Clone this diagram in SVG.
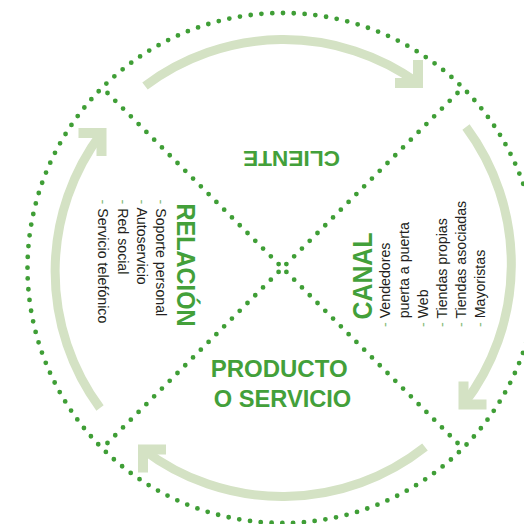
<svg xmlns="http://www.w3.org/2000/svg" width="524" height="524" viewBox="0 0 524 524">
  <style>
    .ring { fill: none; stroke: #3f9e36; stroke-width: 4.8; stroke-linecap: round; stroke-dasharray: 0 10.826; }
    .diag { fill: none; stroke: #3f9e36; stroke-width: 4.8; stroke-linecap: round; stroke-dasharray: 0 11; stroke-dashoffset: 3.5; }
    .flow { fill: none; stroke: #d4e2c4; stroke-width: 9; }
    .title { font-family: "Liberation Sans", Arial, sans-serif; font-weight: bold; fill: #43a03a; }
    .item { font-family: "Liberation Sans", Arial, sans-serif; font-size: 14.2px; fill: #231f20; }
    .dash { fill: #86bb78; }
  </style>
  <defs>
    <!-- open right-angle arrowhead, corner at the origin -->
    <path id="chev" d="M-23,0 L0,0 L0,-23" fill="none" stroke="#d4e2c4" stroke-width="10" stroke-linejoin="miter"/>
  </defs>

  <!-- dotted outer ring and the two dotted diagonals -->
  <g id="frame">
    <circle class="ring" cx="282.5" cy="268" r="255"/>
    <path class="diag" d="M102.2,87.7 L462.8,448.3"/>
    <path class="diag" d="M462.8,87.7 L102.2,448.3"/>
  </g>

  <!-- clockwise flow arcs with their arrowheads -->
  <g id="connectors">
    <path class="flow" d="M145,86 A230,230 0 0 1 418,83"/>
    <path class="flow" d="M466,127 A230,230 0 0 1 463.5,404.5"/>
    <path class="flow" d="M425,447 A230,230 0 0 1 143,449.5"/>
    <path class="flow" d="M100,408 A230,230 0 0 1 101.5,133"/>
    <use href="#chev" transform="translate(418,83)"/>
    <use href="#chev" transform="translate(463.5,404.5) rotate(90)"/>
    <use href="#chev" transform="translate(143,449.5) rotate(180)"/>
    <use href="#chev" transform="translate(101.5,133) rotate(270)"/>
  </g>

  <g id="cliente">
    <text class="title" font-size="22.5" text-anchor="middle" textLength="97" lengthAdjust="spacingAndGlyphs" transform="translate(291.5,150.7) rotate(180)">CLIENTE</text>
  </g>

  <g id="canal">
    <text class="title" font-size="28.5" textLength="87" lengthAdjust="spacingAndGlyphs" transform="translate(372,319.5) rotate(-90)">CANAL</text>
    <text class="item" transform="translate(390,327) rotate(-90)">
      <tspan x="0" y="0"><tspan class="dash">-</tspan> Vendedores</tspan>
      <tspan x="8.7" y="19">puerta a puerta</tspan>
      <tspan x="0" y="38"><tspan class="dash">-</tspan> Web</tspan>
      <tspan x="0" y="57"><tspan class="dash">-</tspan> Tiendas propias</tspan>
      <tspan x="0" y="76"><tspan class="dash">-</tspan> Tiendas asociadas</tspan>
      <tspan x="0" y="95"><tspan class="dash">-</tspan> Mayoristas</tspan>
    </text>
  </g>

  <g id="producto">
    <text class="title" font-size="24.2" text-anchor="middle" lengthAdjust="spacingAndGlyphs">
      <tspan x="282.5" y="377.3" textLength="137" lengthAdjust="spacingAndGlyphs">PRODUCTO</tspan>
      <tspan x="282.5" y="406.5" textLength="137.5" lengthAdjust="spacingAndGlyphs">O SERVICIO</tspan>
    </text>
  </g>

  <g id="relacion">
    <text class="title" font-size="25.5" textLength="123" lengthAdjust="spacingAndGlyphs" transform="translate(177,203.5) rotate(90)">RELACIÓN</text>
    <text class="item" transform="translate(156.3,199.5) rotate(90)">
      <tspan x="0" y="0"><tspan class="dash">-</tspan> Soporte personal</tspan>
      <tspan x="0" y="19.3"><tspan class="dash">-</tspan> Autoservicio</tspan>
      <tspan x="0" y="38.6"><tspan class="dash">-</tspan> Red social</tspan>
      <tspan x="0" y="57.9"><tspan class="dash">-</tspan> Servicio telefónico</tspan>
    </text>
  </g>
</svg>
